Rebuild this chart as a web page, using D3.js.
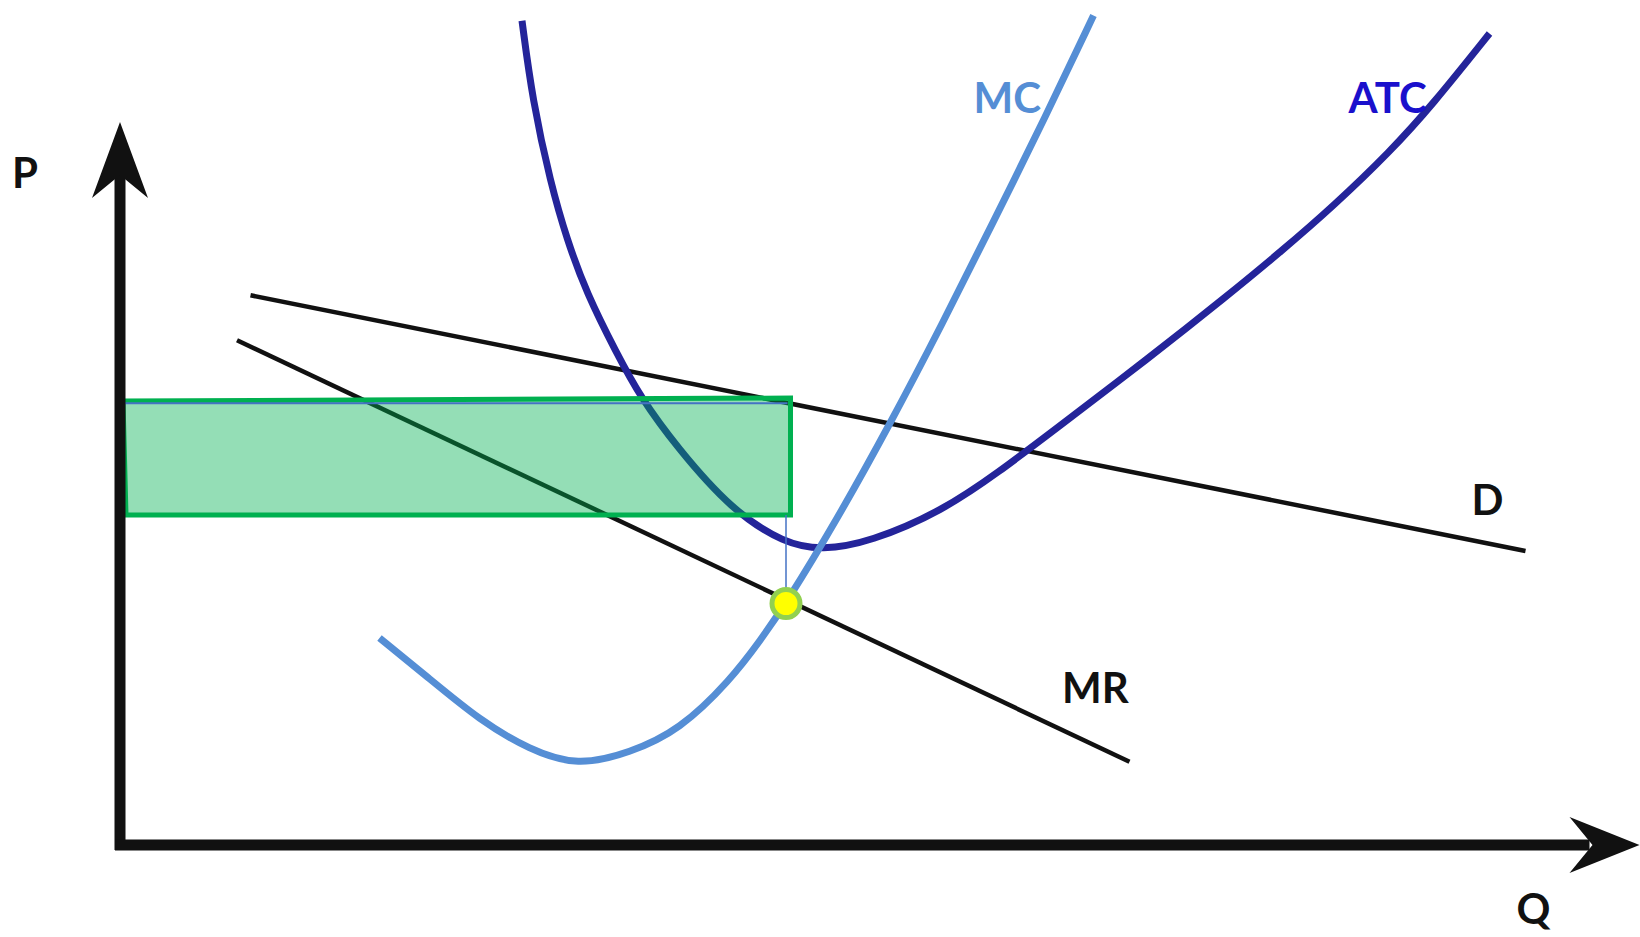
<!DOCTYPE html>
<html>
<head>
<meta charset="utf-8">
<script src="https://cdn.jsdelivr.net/npm/d3@7"></script>
<style>
  html, body { margin: 0; padding: 0; background: #fff; }
  svg { display: block; }
  text { font-family: Lato, "Open Sans", sans-serif; font-weight: bold; }
</style>
</head>
<body>
<div id="chart"></div>
<script>
// Valeurs (Q en abscisse, P en ordonnée, échelle 0-100)
const demand = [[8.7, 73.3], [93.7, 39.2]];
const marginalRevenue = [[7.8, 67.3], [67.3, 11.1]];
// points de contrôle des courbes (lissées en B-spline)
const marginalCost = [
  [17.3, 27.6], [20.5, 22.4], [24.0, 16.6], [27.3, 12.7], [30.5, 10.5],
  [34.0, 12.3], [37.3, 15.3], [40.7, 22.0], [42.7, 27.3], [44.4, 32.2],
  [47.8, 43.4], [51.3, 56.0], [54.8, 69.4], [58.2, 83.0], [61.7, 97.1],
  [64.9, 110.6]
];
const averageTotalCost = [
  [26.8, 109.9], [27.5, 99.3], [28.7, 88.3], [29.8, 80.7], [31.1, 73.6],
  [33.1, 65.6], [34.7, 59.7], [37.1, 53.1], [40.8, 44.6], [44.3, 40.2],
  [46.8, 39.3], [50.0, 40.4], [54.8, 44.5], [58.7, 49.9], [62.0, 54.9],
  [68.7, 65.1], [73.8, 73.2], [77.5, 79.3], [80.9, 85.2], [84.7, 92.5],
  [87.5, 98.7], [91.3, 108.2]
];
// zone de profit (rectangle vert, dessiné à la main)
const profitArea = [[0.2, 59.2], [44.7, 59.6], [44.7, 44.0], [0.4, 44.0]];
const priceLine = [[0.3, 58.9], [44.5, 58.9]];
const quantityLine = [[44.4, 44.0], [44.4, 32.2]];
const equilibrium = [44.4, 32.2];
const axisEnd = { q: 101.3, p: 96.4 };
const labels = [
  { text: 'P', q: -7.2, p: 87.6, color: '#111' },
  { text: 'Q', q: 93.1, p: -10.5, color: '#111' },
  { text: 'MC', q: 56.9, p: 97.6, color: '#558ed5' },
  { text: 'ATC', q: 81.9, p: 97.6, color: '#1a10cc' },
  { text: 'D', q: 90.1, p: 44.0, color: '#111' },
  { text: 'MR', q: 62.8, p: 18.9, color: '#111' }
];

const width = 1640;
const height = 937;

const x = d3.scaleLinear().domain([0, 100]).range([120, 1620]);
const y = d3.scaleLinear().domain([0, 100]).range([845, 95]);

const svg = d3.select('#chart').append('svg')
  .attr('width', width)
  .attr('height', height);

const line = d3.line().x(d => x(d[0])).y(d => y(d[1]));
const smooth = d3.line().x(d => x(d[0])).y(d => y(d[1])).curve(d3.curveBasis);

// Droites D et MR
svg.append('path').attr('d', line(demand))
  .attr('fill', 'none').attr('stroke', '#111').attr('stroke-width', 4.5);
svg.append('path').attr('d', line(marginalRevenue))
  .attr('fill', 'none').attr('stroke', '#111').attr('stroke-width', 4.5);

// Courbes de coût
svg.append('path').attr('d', smooth(averageTotalCost))
  .attr('fill', 'none').attr('stroke', '#24249a').attr('stroke-width', 7);
svg.append('path').attr('d', smooth(marginalCost))
  .attr('fill', 'none').attr('stroke', '#558ed5').attr('stroke-width', 7);

// Rectangle de profit
svg.append('path').attr('d', line(profitArea) + 'Z')
  .attr('fill', '#00b050').attr('fill-opacity', 0.42)
  .attr('stroke', '#00b050').attr('stroke-width', 5)
  .attr('stroke-linejoin', 'miter');

// Traits fins
svg.append('path').attr('d', line(priceLine))
  .attr('fill', 'none').attr('stroke', '#4472c4').attr('stroke-width', 2);
svg.append('path').attr('d', line(quantityLine))
  .attr('fill', 'none').attr('stroke', '#4472c4').attr('stroke-width', 1.5);

// Axes avec flèches
const ox = x(0), oy = y(0);
svg.append('line')
  .attr('x1', ox).attr('y1', oy + 5)
  .attr('x2', ox).attr('y2', y(axisEnd.p) + 50)
  .attr('stroke', '#111').attr('stroke-width', 11);
svg.append('line')
  .attr('x1', ox - 5).attr('y1', oy)
  .attr('x2', x(axisEnd.q) - 50).attr('y2', oy)
  .attr('stroke', '#111').attr('stroke-width', 11);

const ty = y(axisEnd.p);
svg.append('path')
  .attr('d', `M${ox},${ty} L${ox + 28},${ty + 76} L${ox},${ty + 53} L${ox - 28},${ty + 76} Z`)
  .attr('fill', '#111');
const tx = x(axisEnd.q);
svg.append('path')
  .attr('d', `M${tx},${oy} L${tx - 70},${oy - 28} L${tx - 47},${oy} L${tx - 70},${oy + 28} Z`)
  .attr('fill', '#111');

// Point d'équilibre MR = MC
svg.append('circle')
  .attr('cx', x(equilibrium[0])).attr('cy', y(equilibrium[1]))
  .attr('r', 14)
  .attr('fill', '#ffff00')
  .attr('stroke', '#92d050').attr('stroke-width', 5);

// Etiquettes
svg.selectAll('.label')
  .data(labels)
  .enter().append('text')
  .attr('class', 'label')
  .attr('x', d => x(d.q))
  .attr('y', d => y(d.p))
  .style('font-size', '42px')
  .attr('fill', d => d.color)
  .text(d => d.text);
</script>
</body>
</html>
